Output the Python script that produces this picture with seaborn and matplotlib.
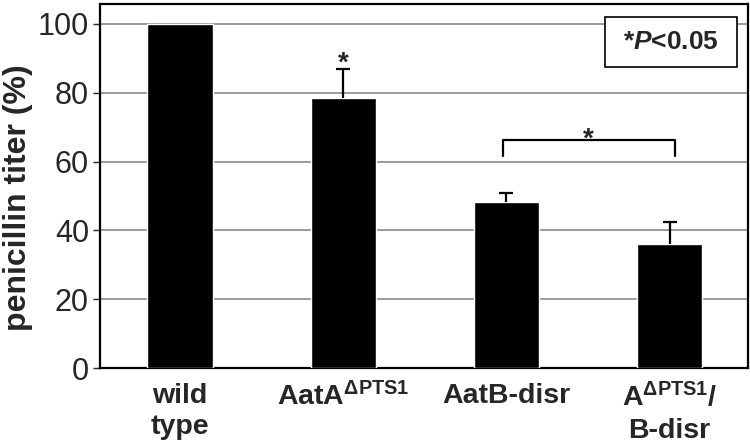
import matplotlib
matplotlib.use('Agg')
import matplotlib.pyplot as plt
import numpy as np
import pandas as pd
import seaborn as sns
from matplotlib.patches import Rectangle

# Data
strains = ['wild type', 'AatA dPTS1', 'AatB-disr', 'A dPTS1 / B-disr']
tick_labels = ['wild\ntype', 'AatA$^{\u0394PTS1}$', 'AatB-disr', 'A$^{\u0394PTS1}$/\nB-disr']
titer = [100.0, 78.4, 48.2, 35.9]
titer_err = [0.0, 8.5, 2.7, 6.6]

sns.set_style('white')
plt.rcParams['font.family'] = ['Liberation Sans', 'DejaVu Sans']
plt.rcParams['mathtext.fontset'] = 'custom'
plt.rcParams['mathtext.rm'] = 'Liberation Sans:bold'
plt.rcParams['mathtext.bf'] = 'Liberation Sans:bold'
plt.rcParams['mathtext.it'] = 'Liberation Sans:bold:italic'
plt.rcParams['mathtext.default'] = 'bf'

df = pd.DataFrame({'strain': strains, 'titer': titer, 'err': titer_err})

fig = plt.figure(figsize=(7.5, 4.47), dpi=100)
ax = fig.add_axes([100 / 750, 1 - 368 / 447, 648 / 750, 364 / 447])

sns.barplot(data=df, x='strain', y='titer', color='black', width=0.4,
            saturation=1, errorbar=None, ax=ax, zorder=3)

# upper error bars only (wild type has none)
x = np.arange(len(strains))
has_err = df['err'].to_numpy() > 0
eb = ax.errorbar(x[has_err], df['titer'][has_err],
                 yerr=[np.zeros(has_err.sum()), df['err'][has_err]], fmt='none',
                 ecolor='black', elinewidth=1.6, capsize=5, capthick=1.6, zorder=4)
eb[1][0].set_visible(False)

ax.set_xlim(-0.49, 3.48)
ax.set_ylim(0, 105.8)
ax.set_yticks([0, 20, 40, 60, 80, 100])
ax.yaxis.grid(True, color='#808080', linewidth=1.1, zorder=0)
ax.set_axisbelow(True)

for s in ax.spines.values():
    s.set_visible(True)
    s.set_color('black')
    s.set_linewidth(1.6)

ax.tick_params(axis='y', left=True, length=5, width=1, pad=3, labelsize=22)
ax.tick_params(axis='x', bottom=False, pad=7, labelsize=20.5)
ax.set_xticks(x)
ax.set_xticklabels(tick_labels, fontweight='bold', linespacing=1.25)
ax.set_xlabel('')
ax.set_ylabel('penicillin titer (%)', fontsize=23, fontweight='bold')
ax.yaxis.set_label_coords(-0.104, 0.467)

# significance marks
ax.text(1, 86.3, '*', ha='center', va='baseline', fontsize=20, fontweight='bold')
ax.plot([1.98, 1.98, 3.03, 3.03], [61.6, 66.2, 66.2, 61.6], color='black',
        linewidth=1.6, zorder=5)
ax.text(2.5, 64.2, '*', ha='center', va='baseline', fontsize=20, fontweight='bold')

# p-value box
ax.add_patch(Rectangle((0.779, 0.827), 0.2037, 0.1374, transform=ax.transAxes,
                       facecolor='white', edgecolor='black', linewidth=1.2, zorder=6))
ax.text(0.881, 0.8956, '*$\\mathit{P}$<0.05', transform=ax.transAxes, ha='center',
        va='center', fontsize=19, fontweight='bold', zorder=7)

fig.savefig('out.png', dpi=100)
